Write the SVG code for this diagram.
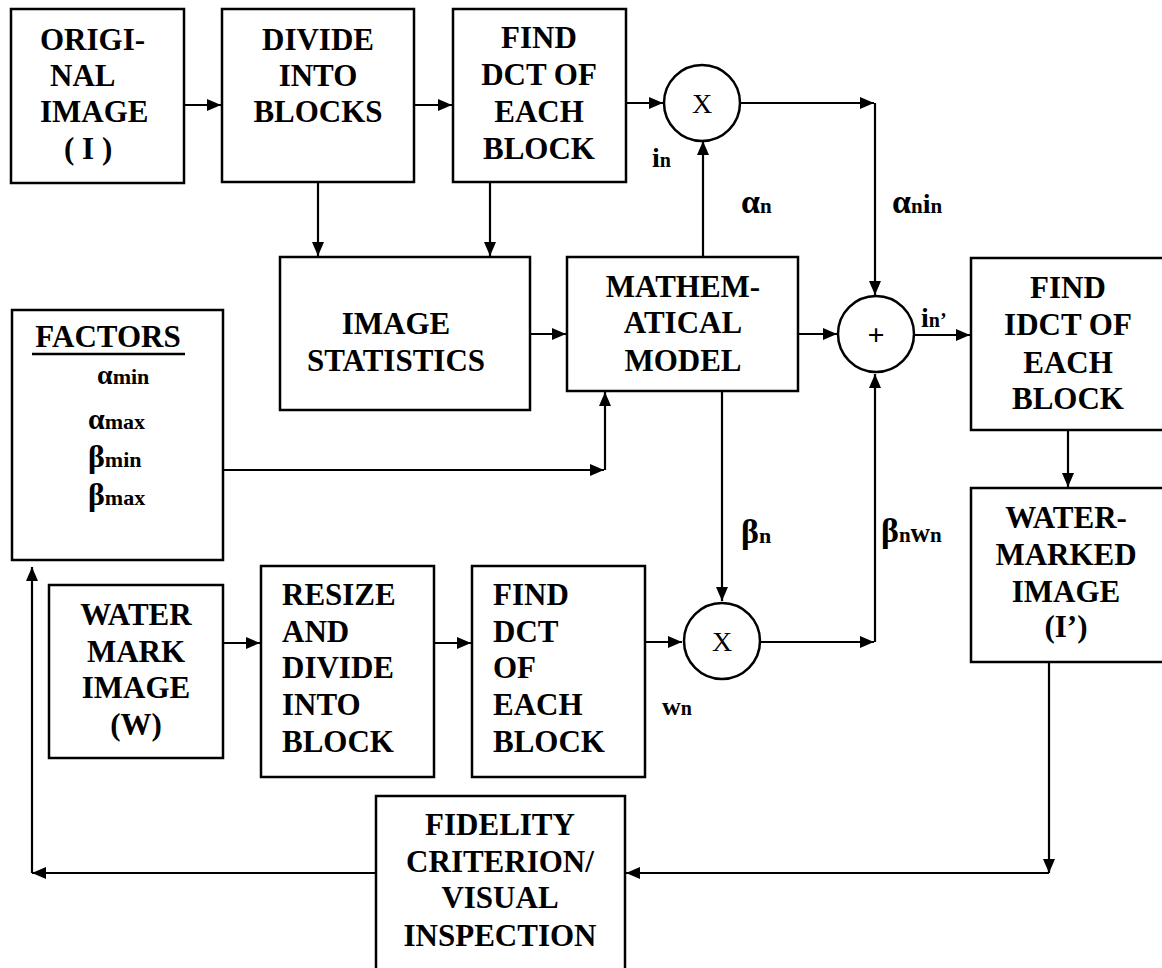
<svg xmlns="http://www.w3.org/2000/svg" width="1162" height="968" viewBox="0 0 1162 968">
<style>
.box{fill:#fff;stroke:#000;stroke-width:2.5}
.t{font-family:"Liberation Serif","Times New Roman",serif;font-weight:bold;font-size:31px;fill:#000}
.c{text-anchor:middle}
.ln{fill:none;stroke:#000;stroke-width:2.2}
.g{font-family:"Liberation Serif","Times New Roman",serif;font-weight:bold;fill:#000}
.op{font-family:"Liberation Serif","Times New Roman",serif;fill:#000;text-anchor:middle}
</style>
<defs>
<marker id="ah" markerUnits="userSpaceOnUse" markerWidth="15" markerHeight="13" refX="14" refY="6" orient="auto">
<path d="M0,0 L14,6 L0,12 z" fill="#000"/>
</marker>
</defs>
<rect width="1162" height="968" fill="#fff"/>

<g id="connectors">
<path class="ln" d="M184,105 L221,105" marker-end="url(#ah)"/>
<path class="ln" d="M414,105 L452,105" marker-end="url(#ah)"/>
<path class="ln" d="M626,103 L663,103" marker-end="url(#ah)"/>
<path class="ln" d="M741,103 L874,103" marker-end="url(#ah)"/>
<path class="ln" d="M875,103 L875,295" marker-end="url(#ah)"/>
<path class="ln" d="M318,182 L318,256" marker-end="url(#ah)"/>
<path class="ln" d="M490,182 L490,256" marker-end="url(#ah)"/>
<path class="ln" d="M703,257 L703,141" marker-end="url(#ah)"/>
<path class="ln" d="M530,334 L566,334" marker-end="url(#ah)"/>
<path class="ln" d="M798,334 L837,334" marker-end="url(#ah)"/>
<path class="ln" d="M913,335 L970,335" marker-end="url(#ah)"/>
<path class="ln" d="M223,470 L604,470" marker-end="url(#ah)"/>
<path class="ln" d="M605,470 L605,392" marker-end="url(#ah)"/>
<path class="ln" d="M722,391 L722,601" marker-end="url(#ah)"/>
<path class="ln" d="M223,643 L260,643" marker-end="url(#ah)"/>
<path class="ln" d="M434,643 L471,643" marker-end="url(#ah)"/>
<path class="ln" d="M645,642 L682,642" marker-end="url(#ah)"/>
<path class="ln" d="M760,642 L874,642" marker-end="url(#ah)"/>
<path class="ln" d="M875,642 L875,374" marker-end="url(#ah)"/>
<path class="ln" d="M1068,430 L1068,487" marker-end="url(#ah)"/>
<path class="ln" d="M1049,662 L1049,873" marker-end="url(#ah)"/>
<path class="ln" d="M1049,873 L626,873" marker-end="url(#ah)"/>
<path class="ln" d="M376,873 L32,873" marker-end="url(#ah)"/>
<path class="ln" d="M32,873 L32,567" marker-end="url(#ah)"/>
</g>

<g id="original">
<rect class="box" x="11" y="9" width="173" height="174"/>
<text class="t" x="40" y="50">ORIGI-</text>
<text class="t" x="50" y="86">NAL</text>
<text class="t" x="40" y="122">IMAGE</text>
<text class="t" x="64" y="159">( I )</text>
</g>

<g id="divide">
<rect class="box" x="222" y="9" width="192" height="173"/>
<text class="t c" x="318" y="50">DIVIDE</text>
<text class="t c" x="318" y="86">INTO</text>
<text class="t c" x="318" y="122">BLOCKS</text>
</g>

<g id="finddct">
<rect class="box" x="453" y="9" width="173" height="173"/>
<text class="t c" x="539" y="48">FIND</text>
<text class="t c" x="539" y="85">DCT OF</text>
<text class="t c" x="539" y="122">EACH</text>
<text class="t c" x="539" y="159">BLOCK</text>
</g>

<g id="mult1">
<circle class="box" cx="702" cy="103" r="38"/>
<text class="op" x="702" y="113" font-size="28">X</text>
</g>

<g id="stats">
<rect class="box" x="280" y="257" width="250" height="153"/>
<text class="t c" x="396" y="334">IMAGE</text>
<text class="t c" x="396" y="371">STATISTICS</text>
</g>

<g id="math">
<rect class="box" x="567" y="257" width="231" height="134"/>
<text class="t c" x="683" y="297">MATHEM-</text>
<text class="t c" x="683" y="333">ATICAL</text>
<text class="t c" x="683" y="371">MODEL</text>
</g>

<g id="sum">
<circle class="box" cx="876" cy="334" r="38"/>
<text class="op" x="876" y="345" font-size="30" font-weight="bold">+</text>
</g>

<g id="idct">
<rect class="box" x="971" y="258" width="194" height="172"/>
<text class="t c" x="1068" y="298">FIND</text>
<text class="t c" x="1068" y="335">IDCT OF</text>
<text class="t c" x="1068" y="373">EACH</text>
<text class="t c" x="1068" y="409">BLOCK</text>
</g>

<g id="watermarked">
<rect class="box" x="971" y="488" width="194" height="174"/>
<text class="t c" x="1066" y="528">WATER-</text>
<text class="t c" x="1066" y="565">MARKED</text>
<text class="t c" x="1066" y="602">IMAGE</text>
<text class="t c" x="1066" y="637">(I’)</text>
</g>

<g id="factors">
<rect class="box" x="12" y="310" width="211" height="250"/>
<text class="t c" x="108" y="347">FACTORS</text>
<line x1="32" y1="354" x2="185" y2="354" stroke="#000" stroke-width="2.5"/>
<text class="g" x="97" y="384"><tspan font-size="28">α</tspan><tspan font-size="22">min</tspan></text>
<text class="g" x="88" y="429"><tspan font-size="30">α</tspan><tspan font-size="22">max</tspan></text>
<text class="g" x="88" y="467"><tspan font-size="32">β</tspan><tspan font-size="22">min</tspan></text>
<text class="g" x="88" y="505"><tspan font-size="32">β</tspan><tspan font-size="22">max</tspan></text>
</g>

<g id="watermark">
<rect class="box" x="49" y="585" width="174" height="173"/>
<text class="t c" x="136" y="625">WATER</text>
<text class="t c" x="136" y="662">MARK</text>
<text class="t c" x="136" y="698">IMAGE</text>
<text class="t c" x="136" y="735">(W)</text>
</g>

<g id="resize">
<rect class="box" x="261" y="566" width="173" height="211"/>
<text class="t" x="282" y="605">RESIZE</text>
<text class="t" x="282" y="642">AND</text>
<text class="t" x="282" y="678">DIVIDE</text>
<text class="t" x="282" y="715">INTO</text>
<text class="t" x="282" y="752">BLOCK</text>
</g>

<g id="finddct2">
<rect class="box" x="472" y="566" width="173" height="211"/>
<text class="t" x="493" y="605">FIND</text>
<text class="t" x="493" y="642">DCT</text>
<text class="t" x="493" y="678">OF</text>
<text class="t" x="493" y="715">EACH</text>
<text class="t" x="493" y="752">BLOCK</text>
</g>

<g id="mult2">
<circle class="box" cx="722" cy="641" r="38"/>
<text class="op" x="722" y="651" font-size="28">X</text>
</g>

<g id="fidelity">
<rect class="box" x="376" y="796" width="249" height="180"/>
<text class="t c" x="500" y="835">FIDELITY</text>
<text class="t c" x="500" y="872">CRITERION/</text>
<text class="t c" x="500" y="908">VISUAL</text>
<text class="t c" x="500" y="946">INSPECTION</text>
</g>

<g id="labels">
<text class="g" x="652" y="167"><tspan font-size="28">i</tspan><tspan font-size="20">n</tspan></text>
<text class="g" x="741" y="213"><tspan font-size="34">α</tspan><tspan font-size="21">n</tspan></text>
<text class="g" x="892" y="213"><tspan font-size="34">α</tspan><tspan font-size="21">n</tspan><tspan font-size="28">i</tspan><tspan font-size="21">n</tspan></text>
<text class="g" x="921" y="327"><tspan font-size="28">i</tspan><tspan font-size="20">n’</tspan></text>
<text class="g" x="741" y="543"><tspan font-size="34">β</tspan><tspan font-size="22">n</tspan></text>
<text class="g" x="881" y="542"><tspan font-size="34">β</tspan><tspan font-size="21">n</tspan><tspan font-size="27">w</tspan><tspan font-size="21">n</tspan></text>
<text class="g" x="662" y="715"><tspan font-size="26">w</tspan><tspan font-size="20">n</tspan></text>
</g>
</svg>
